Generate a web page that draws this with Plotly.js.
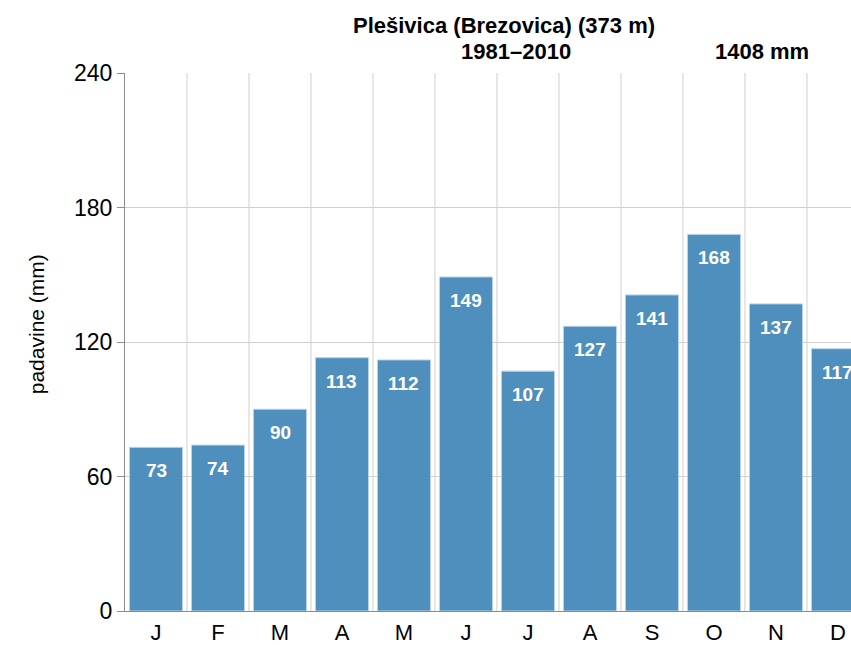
<!DOCTYPE html>
<html>
<head>
<meta charset="utf-8">
<script src="https://cdn.plot.ly/plotly-3.0.1.min.js"></script>
<style>html,body{margin:0;padding:0;background:#fff;}#chart{width:851px;height:645px;}</style>
</head>
<body>
<div id="chart"></div>
<script>
const months = ["J","F","M","A","M","J","J","A","S","O","N","D"];
const precip = [73, 74, 90, 113, 112, 149, 107, 127, 141, 168, 137, 117];
const titleLine1 = "Plešivica (Brezovica) (373 m)";
const period = "1981–2010";
const total = "1408 mm";
const yTitle = "padavine (mm)";
const yTicks = [0, 60, 120, 180, 240];

const idx = months.map((m, i) => i);
const FONT = "Arial, 'Liberation Sans', sans-serif";

const trace = {
  type: "bar",
  x: idx,
  y: precip,
  marker: { color: "#4f8fbe", line: { color: "#b9d2e6", width: 1 } },
  hoverinfo: "skip"
};

const labelAnns = precip.map((v, i) => ({
  x: i, y: v, xref: "x", yref: "y",
  text: "<b>" + v + "</b>",
  showarrow: false, yanchor: "top", yshift: -11,
  font: { family: FONT, size: 19, color: "#ffffff" }
}));

const layout = {
  width: 851, height: 645,
  margin: { l: 125, r: 0, t: 73, b: 34 },
  paper_bgcolor: "#ffffff", plot_bgcolor: "#ffffff",
  bargap: 0.145,
  showlegend: false,
  xaxis: {
    type: "linear",
    range: [-0.5, 11.21],
    tickmode: "array", tickvals: idx, ticktext: months,
    showgrid: false, zeroline: false,
    showline: true, linecolor: "#8c8c8c", linewidth: 1,
    ticks: "", ticklabelstandoff: 2,
    tickfont: { family: FONT, size: 22, color: "#000" },
    fixedrange: true
  },
  yaxis: {
    range: [0, 240],
    tickmode: "array", tickvals: yTicks,
    showgrid: true, gridcolor: "#cfcfcf", gridwidth: 1,
    zeroline: false,
    showline: true, linecolor: "#8c8c8c", linewidth: 1,
    ticks: "outside", ticklen: 7, tickcolor: "#8c8c8c",
    tickfont: { family: FONT, size: 23, color: "#000" },
    fixedrange: true
  },
  shapes: idx.map(i => ({
    type: "line", xref: "x", yref: "paper",
    x0: i + 0.5, x1: i + 0.5, y0: 0, y1: 1,
    line: { color: "#cfcfcf", width: 1 }, layer: "below"
  })),
  annotations: [
    { xref: "paper", yref: "paper", x: 0.522, y: 1, yshift: 48, xanchor: "center", yanchor: "middle",
      text: "<b>" + titleLine1 + "</b>", showarrow: false,
      font: { family: FONT, size: 22, color: "#000" } },
    { xref: "paper", yref: "paper", x: 0.5386, y: 1, yshift: 22, xanchor: "center", yanchor: "middle",
      text: "<b>" + period + "</b>", showarrow: false,
      font: { family: FONT, size: 22, color: "#000" } },
    { xref: "paper", yref: "paper", x: 0.877, y: 1, yshift: 22, xanchor: "center", yanchor: "middle",
      text: "<b>" + total + "</b>", showarrow: false,
      font: { family: FONT, size: 22, color: "#000" } },
    { xref: "paper", yref: "paper", x: -0.1226, y: 0.533, xanchor: "center", yanchor: "middle",
      text: yTitle, textangle: -90, showarrow: false,
      font: { family: FONT, size: 21, color: "#000" } }
  ].concat(labelAnns)
};

Plotly.newPlot("chart", [trace], layout, { displayModeBar: false, staticPlot: true });
</script>
</body>
</html>
